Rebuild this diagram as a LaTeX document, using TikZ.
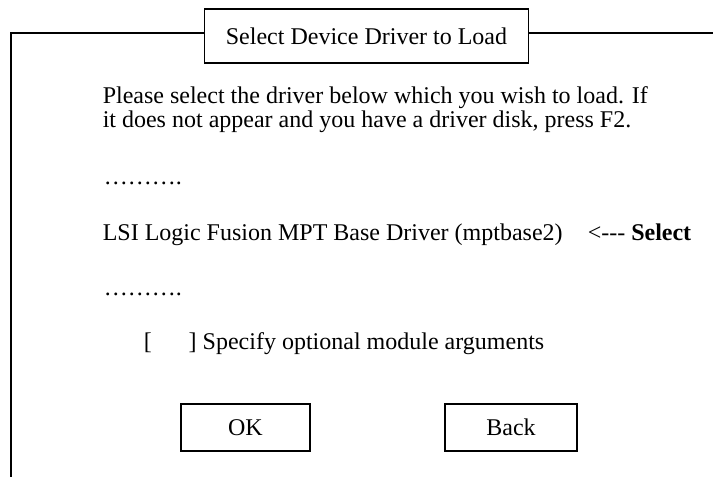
\documentclass[tikz,border=0pt]{standalone}
\usepackage{fontspec}
\setmainfont{Liberation Serif}[Ligatures=TeXOff]
\usetikzlibrary{positioning}
\tikzset{
  txt/.style={anchor=base west, inner sep=0pt, font=\fontsize{24}{23}\selectfont},
  btn/.style={draw, line width=1.5pt, inner sep=0pt, minimum height=47pt, font=\fontsize{24}{23}\selectfont},
}

\begin{document}
\begin{tikzpicture}[x=1pt, y=-1pt, line width=1.5pt]
    \useasboundingbox (0,0) rectangle (713,477);

    % frame round the dialog
    \coordinate (corner) at (11,33);
    \coordinate (bottom) at (11,477);
    \coordinate (rightend) at (713,33);
    \node[btn, minimum width=324pt, minimum height=54pt] (title) at (366.5,36) {Select Device Driver to Load};
    \draw (title.west |- corner) -- (corner) -- (bottom);
    \draw (title.east |- corner) -- (rightend);

    \node[txt] (intro1) at (102,103) {Please select the driver below which you wish to load. If};
    \node[txt] (intro2) at ([yshift=-24pt]intro1.base west) {it does not appear and you have a driver disk, press F2.};

    \node[txt] (dotsA) at (103,184) {……….};
    \node[txt] (driver) at (102,240) {LSI Logic Fusion MPT Base Driver (mptbase2)};
    \node[txt] (pick) at (587,240) {<--- \textbf{Select}};
    \node[txt] (dotsB) at (103,295) {……….};

    \node[txt] (opt) at (143,349) {[\hspace{37pt}] Specify optional module arguments};

    \node[btn, minimum width=129pt] (ok) at (245.5,427.5) {OK};
    \node[btn, minimum width=132pt] (back) at (511,427.5) {Back};

\end{tikzpicture}
\end{document}
